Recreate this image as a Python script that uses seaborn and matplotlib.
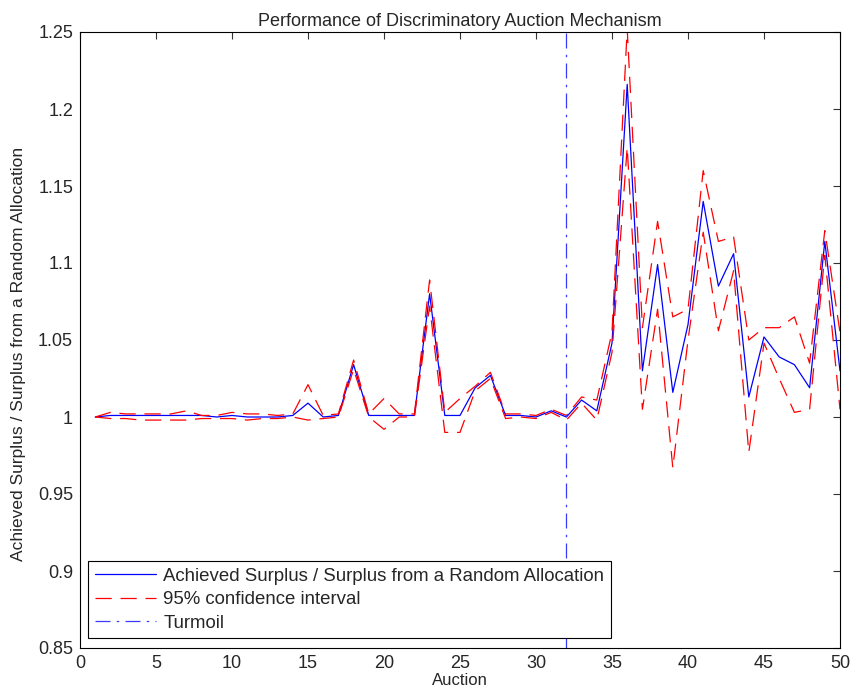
import numpy as np
import pandas as pd
import matplotlib
matplotlib.use("Agg")
import matplotlib.pyplot as plt
import seaborn as sns

auction = list(range(1, 51))
surplus_ratio = [1.000, 1.001, 1.001, 1.001, 1.001, 1.001, 1.001, 1.001, 1.000, 1.001,
                 1.000, 1.000, 1.000, 1.001, 1.009, 1.000, 1.001, 1.034, 1.001, 1.001,
                 1.001, 1.001, 1.080, 1.001, 1.001, 1.019, 1.027, 1.001, 1.001, 1.000,
                 1.004, 1.000, 1.011, 1.004, 1.048, 1.216, 1.030, 1.099, 1.016, 1.060,
                 1.140, 1.085, 1.106, 1.013, 1.052, 1.039, 1.034, 1.019, 1.114, 1.030]
ci_upper = [1.000, 1.003, 1.002, 1.002, 1.002, 1.002, 1.004, 1.001, 1.001, 1.003,
            1.002, 1.002, 1.001, 1.002, 1.021, 1.001, 1.002, 1.037, 1.002, 1.012,
            1.002, 1.002, 1.089, 1.003, 1.012, 1.020, 1.029, 1.002, 1.002, 1.001,
            1.005, 1.001, 1.013, 1.011, 1.055, 1.252, 1.058, 1.127, 1.065, 1.070,
            1.160, 1.114, 1.117, 1.050, 1.058, 1.058, 1.065, 1.035, 1.121, 1.055]
ci_lower = [1.000, 0.999, 0.999, 0.998, 0.998, 0.998, 0.998, 0.999, 0.999, 0.999,
            0.998, 0.999, 0.999, 1.000, 0.998, 0.999, 1.000, 1.031, 1.000, 0.992,
            1.000, 1.000, 1.072, 0.990, 0.990, 1.017, 1.025, 0.999, 1.000, 0.999,
            1.003, 0.998, 1.009, 0.998, 1.042, 1.175, 1.005, 1.070, 0.967, 1.050,
            1.120, 1.056, 1.095, 0.977, 1.048, 1.025, 1.003, 1.005, 1.105, 1.005]
turmoil_auction = 32

x_ticks = [0, 5, 10, 15, 20, 25, 30, 35, 40, 45, 50]
y_ticks = [0.85, 0.9, 0.95, 1.0, 1.05, 1.1, 1.15, 1.2, 1.25]
y_tick_labels = ["0.85", "0.9", "0.95", "1", "1.05", "1.1", "1.15", "1.2", "1.25"]

df = pd.DataFrame({"Auction": auction, "ratio": surplus_ratio,
                   "upper": ci_upper, "lower": ci_lower})

sns.set_style("white")
plt.rcParams["font.family"] = ["Liberation Sans", "DejaVu Sans"]
plt.rcParams["xtick.direction"] = "in"
plt.rcParams["ytick.direction"] = "in"

fig = plt.figure(figsize=(8.5, 6.98), dpi=100)
ax = fig.add_axes([80 / 850, 50 / 698, 760 / 850, 616 / 698])

sns.lineplot(data=df, x="Auction", y="ratio", ax=ax, color="#0000ff", linewidth=0.9,
             label="Achieved Surplus / Surplus from a Random Allocation")
sns.lineplot(data=df, x="Auction", y="upper", ax=ax, color="#ff0000", linewidth=0.9,
             label="95% confidence interval")
sns.lineplot(data=df, x="Auction", y="lower", ax=ax, color="#ff0000", linewidth=0.9,
             label="_nolegend_")
for ln in ax.lines[1:3]:
    ln.set_linestyle((0, (13, 7)))
ax.axvline(turmoil_auction, color="#3a3aff", linestyle=(0, (12, 5, 2, 5)),
           linewidth=0.9, label="Turmoil")

ax.set_xlim(0, 50)
ax.set_ylim(0.85, 1.25)
ax.set_xticks(x_ticks)
ax.set_yticks(y_ticks)
ax.set_yticklabels(y_tick_labels)
ax.tick_params(axis="both", which="both", top=True, right=True, length=5,
               width=0.8, labelsize=13, color="#333333", pad=5)
for s in ax.spines.values():
    s.set_color("black")
    s.set_linewidth(0.8)

ax.set_xlabel("Auction", fontsize=12, labelpad=1)
ax.set_ylabel("Achieved Surplus / Surplus from a Random Allocation", fontsize=12.5)
ax.yaxis.set_label_coords(-0.071, 0.478)
ax.set_title("Performance of Discriminatory Auction Mechanism", fontsize=13, pad=4)

leg = ax.legend(loc="lower left", fontsize=13.4, frameon=True, fancybox=False,
                edgecolor="black", framealpha=1, borderpad=0.33, labelspacing=0.36,
                handlelength=3.3, handletextpad=0.4, borderaxespad=0,
                bbox_to_anchor=(0.011, 0.016))
leg.get_frame().set_linewidth(0.8)

fig.savefig("out.png", dpi=100)
